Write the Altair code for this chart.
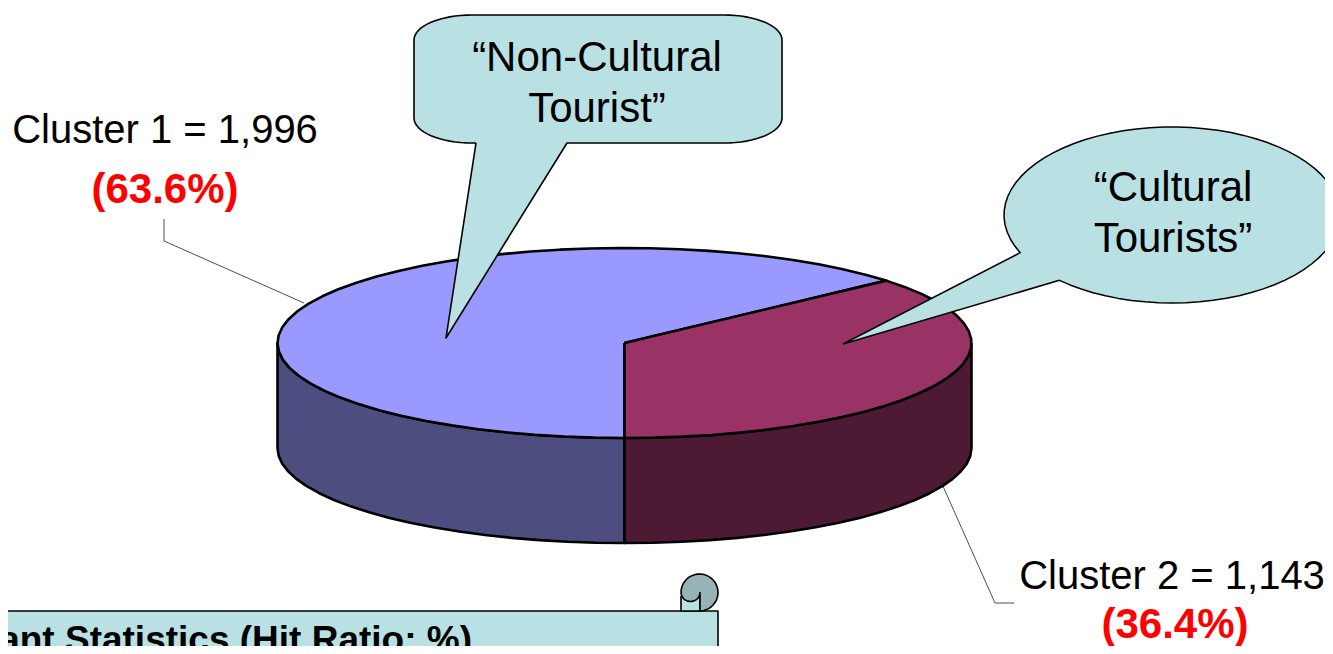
import math
import altair as alt
import pandas as pd

# Values
clusters = ["Cluster 1", "Cluster 2"]
counts = ["1,996", "1,143"]
shares = [63.6, 36.4]
top_colors = ["#9999FF", "#993366"]
side_colors = ["#4D4D80", "#4D1A33"]

# Pie geometry in page pixels
CX, CY, RX, RY, DEPTH = 624.5, 343, 347, 95, 105
CALLOUT = "#B9E0E3"
CURL = "#97B3B6"

W, H = 1317, 638
xs = alt.Scale(domain=[8, 8 + W], nice=False, zero=False)
ys = alt.Scale(domain=[8 + H, 8], nice=False, zero=False)


def shape(pts, fill=None, stroke="black", sw=1.5, close=True):
    if close:
        pts = list(pts) + [pts[0]]
    df = pd.DataFrame({"x": [p[0] for p in pts], "y": [p[1] for p in pts], "i": range(len(pts))})
    kw = dict(stroke=stroke, strokeWidth=sw, clip=True, strokeJoin="round")
    if fill:
        kw["fill"] = fill
    return alt.Chart(df).mark_line(**kw).encode(
        x=alt.X("x:Q", scale=xs, axis=None),
        y=alt.Y("y:Q", scale=ys, axis=None),
        order=alt.Order("i:Q"),
    )


def rim(t0, t1, dy=0.0):
    n = max(2, int(abs(t1 - t0) / 5) + 1)
    out = []
    for k in range(n + 1):
        t = math.radians(t0 + (t1 - t0) * k / n)
        out.append((CX + RX * math.sin(t), CY + dy - RY * math.cos(t)))
    return out


def arc(cx, cy, rx, ry, a0, a1, n=16):
    out = []
    for k in range(n + 1):
        t = math.radians(a0 + (a1 - a0) * k / n)
        out.append((cx + rx * math.cos(t), cy + ry * math.sin(t)))
    return out


def txt(s, x, y, size, color="black", bold=False, align="center"):
    df = pd.DataFrame({"x": [x], "y": [y], "t": [s]})
    return alt.Chart(df).mark_text(
        font="Liberation Sans", fontSize=size, color=color, align=align, baseline="middle",
        fontWeight="bold" if bold else "normal", clip=True,
    ).encode(x=alt.X("x:Q", scale=xs, axis=None), y=alt.Y("y:Q", scale=ys, axis=None), text="t:N")


# Slices: cluster 2 ends at the front of the pie, cluster 1 wraps round the rest
a2 = 360 * shares[1] / sum(shares)
start2 = 180 - a2
layers = []
layers.append(shape(rim(180, 270) + rim(270, 180, DEPTH), side_colors[0], sw=2.6))
layers.append(shape(rim(90, 180) + rim(180, 90, DEPTH), side_colors[1], sw=2.6))
layers.append(shape([(CX, CY)] + rim(180, 180 + 360 * shares[0] / sum(shares)), top_colors[0], sw=2.6))
layers.append(shape([(CX, CY)] + rim(start2, 180), top_colors[1], sw=2.6))

# Leader lines
layers.append(shape([(164, 219), (164, 241), (304, 303)], sw=0.7, close=False))
layers.append(shape([(942, 484), (995, 603), (1014, 603)], sw=0.7, close=False))

# Callout outlines
L, R, T, B, CRX, CRY = 414, 782, 15, 143, 58, 25
callout1 = (
    [(476, B), (446, 338), (567, B)]
    + arc(R - CRX, B - CRY, CRX, CRY, 90, 0)
    + arc(R - CRX, T + CRY, CRX, CRY, 0, -90)
    + arc(L + CRX, T + CRY, CRX, CRY, -90, -180)
    + arc(L + CRX, B - CRY, CRX, CRY, 180, 90)
)
layers.append(shape(callout1, CALLOUT, sw=1.6))

EX, EY, ERX, ERY = 1172, 215, 168, 88
tail_a = math.degrees(math.atan2((252 - EY) / ERY, (1023 - EX) / ERX))
tail_b = math.degrees(math.atan2((280 - EY) / ERY, (1060 - EX) / ERX))
layers.append(shape([(843, 344)] + arc(EX, EY, ERX, ERY, tail_a, tail_b + 360, 72), CALLOUT, sw=1.5))

# Scroll panel at the bottom
layers.append(shape([(-5, 611), (718, 611), (718, 670), (-5, 670)], CALLOUT, sw=1.6))
layers.append(shape([(681, 596), (700, 596), (700, 611), (681, 611)], CALLOUT, sw=1.6))
curl = (
    [(700, 592), (700, 611)]
    + arc(699.5, 592.5, 18.5, 18.5, 85, -175, 30)
    + arc(690.5, 592.5, 9.5, 9, 170, 10, 10)
)
layers.append(shape(curl, CURL, sw=1.6))

# Texts
layers += [
    txt("\u201cNon-Cultural", 597, 58, 42),
    txt("Tourist\u201d", 597, 109, 42),
    txt("\u201cCultural", 1173, 188, 42),
    txt("Tourists\u201d", 1173, 239, 42),
    txt(f"{clusters[0]} = {counts[0]}", 165, 131, 40),
    txt(f"({shares[0]}%)", 165, 190, 42, "#FF0000", True),
    txt(f"{clusters[1]} = {counts[1]}", 1172, 577, 40),
    txt(f"({shares[1]}%)", 1175, 625, 42, "#FF0000", True),
    txt("ant Statistics (Hit Ratio: %)", 472, 641, 37, bold=True, align="right"),
]

chart = alt.layer(*layers).properties(width=W, height=H, padding=0, background="white").configure_view(stroke=None)
chart.save("out.html", embed_options={"renderer": "svg", "actions": False})
